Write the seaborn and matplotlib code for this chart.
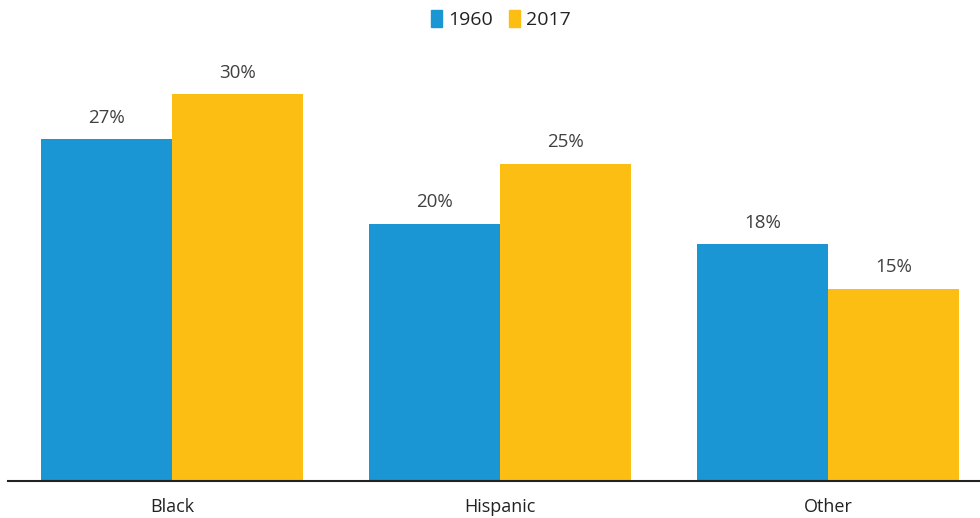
import matplotlib
matplotlib.use('Agg')
import matplotlib.pyplot as plt
import pandas as pd
import seaborn as sns
from matplotlib.patches import Patch

groups = ['Black', 'Hispanic', 'Other']
years = ['1960', '2017']
share_1960 = [26.7, 20.1, 18.5]
share_2017 = [30.2, 24.8, 15.0]
labels_1960 = ['27%', '20%', '18%']
labels_2017 = ['30%', '25%', '15%']

blue = '#1996d3'
yellow = '#fdbe14'
text_color = '#404040'

df = pd.DataFrame({
    'group': groups * 2,
    'year': [years[0]] * 3 + [years[1]] * 3,
    'share': share_1960 + share_2017,
})

sns.set_style('white')
plt.rcParams['font.family'] = ['Open Sans', 'DejaVu Sans']

fig = plt.figure(figsize=(9.8, 5.18), dpi=100)
# axes placed in pixel terms: left 8px, right edge, bottom 37px, top 40px
ax = fig.add_axes([8 / 980, 37 / 518, 972 / 980, 441 / 518])

sns.barplot(data=df, x='group', y='share', hue='year', order=groups,
            hue_order=years, palette=[blue, yellow], saturation=1,
            width=0.8, linewidth=0, ax=ax, legend=False)

ax.set_xlim(-0.5, 2.463)
ax.set_ylim(0, 34.45)

for cont, labs in zip(ax.containers, [labels_1960, labels_2017]):
    ax.bar_label(cont, labels=labs, padding=9, fontsize=13.5, color=text_color)

for s in ['top', 'right', 'left']:
    ax.spines[s].set_visible(False)
ax.spines['bottom'].set_color('#222222')
ax.spines['bottom'].set_linewidth(1.5)
ax.set_yticks([])
ax.set_xlabel('')
ax.set_ylabel('')
ax.tick_params(axis='x', length=0, pad=12, labelsize=13, labelcolor='#222222')

handles = [Patch(color=blue, label=years[0]), Patch(color=yellow, label=years[1])]
fig.legend(handles=handles, loc='upper center', bbox_to_anchor=(0.511, 1.015),
           ncol=2, frameon=False, fontsize=14, handlelength=0.6,
           handleheight=1.0, handletextpad=0.3, columnspacing=0.8,
           labelcolor='#222222')

fig.savefig('out.png', dpi=100)
